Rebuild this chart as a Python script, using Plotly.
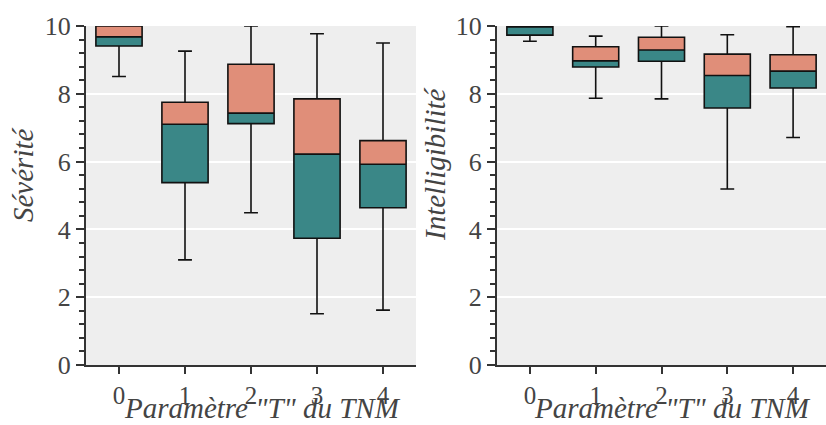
import plotly.graph_objects as go

categories = [0, 1, 2, 3, 4]

# Sévérité
sev_lower = [8.51, 3.10, 4.49, 1.51, 1.62]
sev_q1 = [9.41, 5.38, 7.12, 3.74, 4.64]
sev_median = [9.68, 7.10, 7.43, 6.22, 5.92]
sev_q3 = [10.0, 7.75, 8.87, 7.85, 6.62]
sev_upper = [10.0, 9.26, 10.0, 9.77, 9.50]

# Intelligibilité
int_lower = [9.55, 7.87, 7.85, 5.19, 6.71]
int_q1 = [9.73, 8.79, 8.96, 7.58, 8.17]
int_median = [10.0, 8.97, 9.29, 8.54, 8.67]
int_q3 = [10.0, 9.39, 9.67, 9.17, 9.15]
int_upper = [10.0, 9.70, 10.0, 9.74, 9.98]

TEAL = "#3a8787"
SALMON = "#e08e79"
FONT = "Liberation Serif"
TXT = "#444444"
W = 0.7

fig = go.Figure()

def add_panel(xa, ya, lower, q1, med, q3, upper):
    fig.add_trace(go.Bar(x=categories, base=q1, y=[m - a for m, a in zip(med, q1)],
                         width=W, marker=dict(color=TEAL, line=dict(width=0)),
                         xaxis=xa, yaxis=ya, showlegend=False, hoverinfo="skip"))
    fig.add_trace(go.Bar(x=categories, base=med, y=[b - m for b, m in zip(q3, med)],
                         width=W, marker=dict(color=SALMON, line=dict(width=0)),
                         xaxis=xa, yaxis=ya, showlegend=False, hoverinfo="skip"))
    fig.add_trace(go.Box(x=categories, q1=q1, median=med, q3=q3,
                         lowerfence=lower, upperfence=upper, width=W,
                         whiskerwidth=0.3, fillcolor="rgba(0,0,0,0)",
                         line=dict(color="#111111", width=1.6),
                         boxpoints=False, xaxis=xa, yaxis=ya, showlegend=False))

add_panel("x", "y", sev_lower, sev_q1, sev_median, sev_q3, sev_upper)
add_panel("x2", "y2", int_lower, int_q1, int_median, int_q3, int_upper)

xcommon = dict(range=[-0.5, 4.5], tickvals=categories, ticks="outside", ticklen=7,
               tickwidth=2, tickcolor="#333333", showline=True, linecolor="#333333",
               linewidth=2, showgrid=False, zeroline=False, automargin=False,
               tickfont=dict(family=FONT, size=25, color=TXT))
ycommon = dict(range=[0, 10], dtick=2, ticks="outside", ticklen=8, tickwidth=2,
               tickcolor="#333333", showline=True, linecolor="#333333", linewidth=2,
               gridcolor="white", gridwidth=2, zeroline=False, automargin=False,
               minor=dict(dtick=0.4, ticks="outside", ticklen=5, tickwidth=1.5,
                          tickcolor="#333333", showgrid=False),
               tickfont=dict(family=FONT, size=26, color=TXT))

TITLE_FONT = dict(family=FONT, size=29, color=TXT)

# annotation positions in pixels (x, y from top-left)
annots = [
    dict(text="<i>Paramètre \"T\" du TNM</i>", x=262 / 826, y=0, yanchor="bottom",
         xanchor="center", textangle=0),
    dict(text="<i>Paramètre \"T\" du TNM</i>", x=672 / 826, y=0, yanchor="bottom",
         xanchor="center", textangle=0),
    dict(text="<i>Sévérité</i>", x=23 / 826, y=1 - 175 / 425, yanchor="middle",
         xanchor="center", textangle=-90),
    dict(text="<i>Intelligibilité</i>", x=435 / 826, y=1 - 164 / 425, yanchor="middle",
         xanchor="center", textangle=-90),
]

fig.update_layout(
    width=826, height=425, margin=dict(l=0, r=0, t=0, b=0),
    paper_bgcolor="white", plot_bgcolor="#eeeeee",
    barmode="overlay",
    xaxis=dict(domain=[86 / 826, 416 / 826], anchor="y", **xcommon),
    yaxis=dict(domain=[1 - 365 / 425, 1 - 26 / 425], anchor="x", **ycommon),
    xaxis2=dict(domain=[497 / 826, 1.0], anchor="y2", **xcommon),
    yaxis2=dict(domain=[1 - 365 / 425, 1 - 26 / 425], anchor="x2", **ycommon),
    annotations=[dict(showarrow=False, xref="paper", yref="paper", font=TITLE_FONT,
                      borderpad=0, **a) for a in annots],
)

fig.write_html("out.html")
